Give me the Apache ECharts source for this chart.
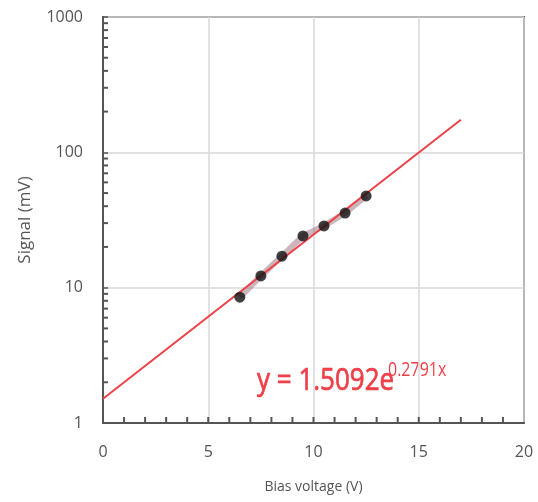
<!DOCTYPE html>
<html>
<head>
<meta charset="utf-8">
<title>Signal vs bias voltage</title>
<script src="https://cdn.jsdelivr.net/npm/echarts/dist/echarts.min.js"></script>
<style>
    html, body { margin: 0; padding: 0; background: #fff; }
    #main { width: 538px; height: 502px; }
</style>
</head>
<body>
<div id="main"></div>
<script type="text/javascript">
    // 测量数据 (Bias voltage V, Signal mV)
    var voltage = [6.5, 7.5, 8.5, 9.5, 10.5, 11.5, 12.5];
    var signal = [8.5, 12.2, 17.1, 24.1, 28.6, 35.6, 47.6];

    // 指数拟合线的两个端点 (对数坐标下为直线)
    var trendX = [0, 17];
    var trendY = [1.51, 174];

    // 次刻度
    var xMinorTicks = [1, 2, 3, 4, 5, 6, 7, 8, 9, 10, 11, 12, 13, 14, 15, 16, 17, 18, 19];
    var yMinorTicks = [2, 3, 4, 5, 6, 7, 8, 9, 20, 30, 40, 50, 60, 70, 80, 90, 200, 300, 400, 500, 600, 700, 800, 900];

    var equationMain = 'y = 1.5092e';
    var equationSup = '0.2791x';

    var textColor = '#555';
    var frameColor = '#555';
    var gridColor = '#d9d9d9';
    var red = '#ee4049';

    var points = voltage.map(function (v, i) { return [v, signal[i]]; });
    var trend = trendX.map(function (v, i) { return [v, trendY[i]]; });
    var yTickData = yMinorTicks.map(function (v) { return [0, v]; });
    var xTickData = xMinorTicks.map(function (v) { return [v, 1]; });

    // 向内的次刻度线
    function tickRenderer(dx, dy) {
        return function (params, api) {
            var p = api.coord([api.value(0), api.value(1)]);
            return {
                type: 'line',
                shape: { x1: p[0], y1: p[1], x2: p[0] + dx, y2: p[1] + dy },
                style: { stroke: frameColor, lineWidth: 2 }
            };
        };
    }

    var myChart = echarts.init(document.getElementById('main'));

    var option = {
        animation: false,
        textStyle: { fontFamily: '"Open Sans", sans-serif' },
        grid: {
            left: 103,
            right: 14,
            top: 17,
            bottom: 79,
            show: true,
            borderColor: frameColor,
            borderWidth: 2,
            backgroundColor: 'transparent'
        },
        xAxis: {
            type: 'value',
            min: 0,
            max: 20,
            interval: 5,
            name: 'Bias voltage (V)',
            nameLocation: 'middle',
            nameGap: 57,
            nameTextStyle: { color: textColor, fontSize: 14 },
            axisLine: { lineStyle: { color: frameColor, width: 2 } },
            axisTick: { show: false },
            axisLabel: { color: textColor, fontSize: 16, margin: 21 },
            splitLine: { show: true, lineStyle: { color: gridColor, width: 1.5 } }
        },
        yAxis: {
            type: 'log',
            logBase: 10,
            min: 1,
            max: 1000,
            name: 'Signal (mV)',
            nameLocation: 'middle',
            nameGap: 69,
            nameTextStyle: { color: textColor, fontSize: 17 },
            axisLine: { lineStyle: { color: frameColor, width: 2 } },
            axisTick: { inside: true, length: 5, lineStyle: { color: frameColor, width: 1.5 } },
            axisLabel: {
                color: textColor,
                fontSize: 16,
                margin: 20,
                formatter: function (v) { return String(v); }
            },
            splitLine: { show: true, lineStyle: { color: gridColor, width: 1.5 } }
        },
        graphic: [{
            type: 'group',
            x: 257,
            y: 381,
            scaleY: 1.22,
            children: [{
                type: 'text',
                x: 0,
                y: 0,
                style: {
                    text: equationMain,
                    fill: red,
                    stroke: red,
                    lineWidth: 0.6,
                    font: '26px "Open Sans", sans-serif',
                    verticalAlign: 'middle'
                }
            }, {
                type: 'text',
                x: 131,
                y: -9,
                style: {
                    text: equationSup,
                    fill: red,
                    font: '16px "Open Sans", sans-serif',
                    verticalAlign: 'middle'
                }
            }]
        }],
        series: [{
            type: 'custom',
            silent: true,
            clip: false,
            data: yTickData,
            renderItem: tickRenderer(5, 0),
            z: 5
        }, {
            type: 'custom',
            silent: true,
            clip: false,
            data: xTickData,
            renderItem: tickRenderer(0, -6),
            z: 5
        }, {
            // 数据点连线
            type: 'line',
            data: points,
            showSymbol: false,
            lineStyle: { color: 'rgba(150, 110, 120, 0.5)', width: 6 },
            z: 2
        }, {
            // 拟合线
            type: 'line',
            data: trend,
            showSymbol: false,
            lineStyle: { color: red, width: 2 },
            z: 3
        }, {
            type: 'scatter',
            data: points,
            symbol: 'circle',
            symbolSize: 11,
            itemStyle: { color: '#111' },
            z: 4
        }]
    };

    myChart.setOption(option);
</script>
</body>
</html>
